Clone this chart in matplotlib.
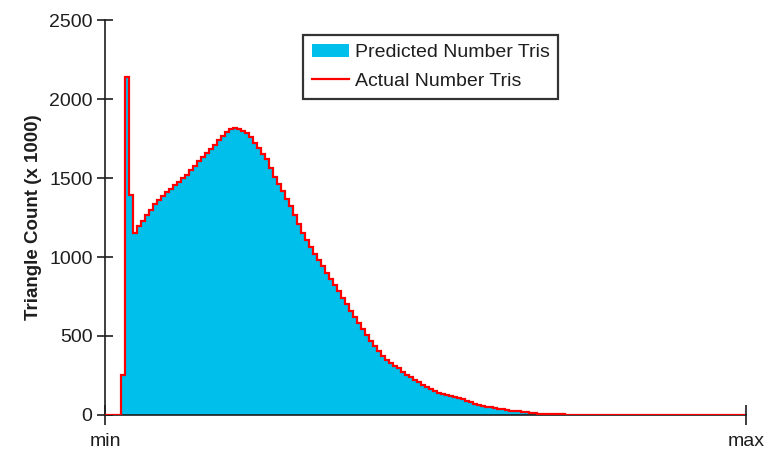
import matplotlib
matplotlib.use("Agg")
import matplotlib.pyplot as plt
from matplotlib.patches import Patch
from matplotlib.lines import Line2D
import numpy as np

plt.rcParams['font.family'] = ['Liberation Sans', 'DejaVu Sans']

# histogram bins (x in bin units, "min" at 0, "max" at the right end)
n_bins = 160.25
first_bin = 4
n_empty_tail = 45

# predicted triangle counts (x 1000) per bin, starting at first_bin
predicted = [
    253, 2140, 1390, 1150, 1195, 1230, 1265, 1300, 1335, 1360,
    1385, 1410, 1432, 1455, 1478, 1500, 1522, 1550, 1578, 1607,
    1633, 1660, 1685, 1710, 1738, 1765, 1793, 1808, 1816, 1810,
    1800, 1788, 1760, 1725, 1690, 1655, 1622, 1565, 1505, 1460,
    1415, 1370, 1325, 1265, 1210, 1155, 1110, 1065, 1020, 980,
    940, 900, 862, 825, 785, 740, 700, 660, 618, 580,
    542, 505, 468, 435, 402, 372, 350, 330, 312, 295,
    275, 256, 238, 222, 206, 192, 178, 165, 152, 142,
    135, 128, 122, 116, 110, 100, 90, 80, 70, 62,
    56, 53, 50, 44, 40, 37, 34, 28, 24, 22,
    21, 20, 14, 10, 8, 7, 6, 6, 5, 5, 4,
]
# actual counts follow the prediction, with empty bins either side
actual = [0] * first_bin + predicted + [0] * n_empty_tail

y_ticks = [0, 500, 1000, 1500, 2000, 2500]
x_tick_labels = ['min', 'max']

cyan = '#00BFEB'
red = '#FF0000'
ink = '#1e1e1e'

fig = plt.figure(figsize=(7.78, 4.57), dpi=100)
ax = fig.add_axes([0.135, 0.092, 0.824, 0.864])

pred_edges = np.arange(first_bin, first_bin + len(predicted) + 1)
act_edges = np.arange(0, len(actual) + 1)

ax.stairs(predicted, pred_edges, fill=True, color=cyan, lw=0, zorder=2)
ax.stairs(actual, act_edges, color=red, lw=1.6, zorder=3)

ax.set_xlim(0, n_bins)
ax.set_ylim(0, 2500)
ax.set_yticks(y_ticks)
ax.set_xticks([0, n_bins])
ax.set_xticklabels(x_tick_labels)

for s in ['top', 'right']:
    ax.spines[s].set_visible(False)
for s in ['left', 'bottom']:
    ax.spines[s].set_linewidth(1.2)
    ax.spines[s].set_color(ink)
    ax.spines[s].set_zorder(2.5)

ax.tick_params(axis='y', direction='inout', length=12, width=1.2,
               labelsize=14, colors=ink, pad=3)
ax.tick_params(axis='x', direction='inout', length=14, width=1.2,
               labelsize=14, colors=ink, pad=6)

ax.set_ylabel('Triangle Count (x 1000)', fontsize=13.5, fontweight='bold',
              color=ink, labelpad=5)

handles = [Patch(facecolor=cyan, edgecolor='none'),
           Line2D([0], [0], color=red, lw=1.6)]
leg = ax.legend(handles, ['Predicted Number Tris', 'Actual Number Tris'],
                loc='upper left', bbox_to_anchor=(0.309, 0.962), fontsize=14,
                frameon=True, fancybox=False, borderpad=0.45, borderaxespad=0,
                handlelength=1.9, handletextpad=0.3, labelspacing=0.55)
leg.get_frame().set_edgecolor('black')
leg.get_frame().set_linewidth(1.6)
for t in leg.get_texts():
    t.set_color(ink)

fig.savefig('out.png', dpi=100)
